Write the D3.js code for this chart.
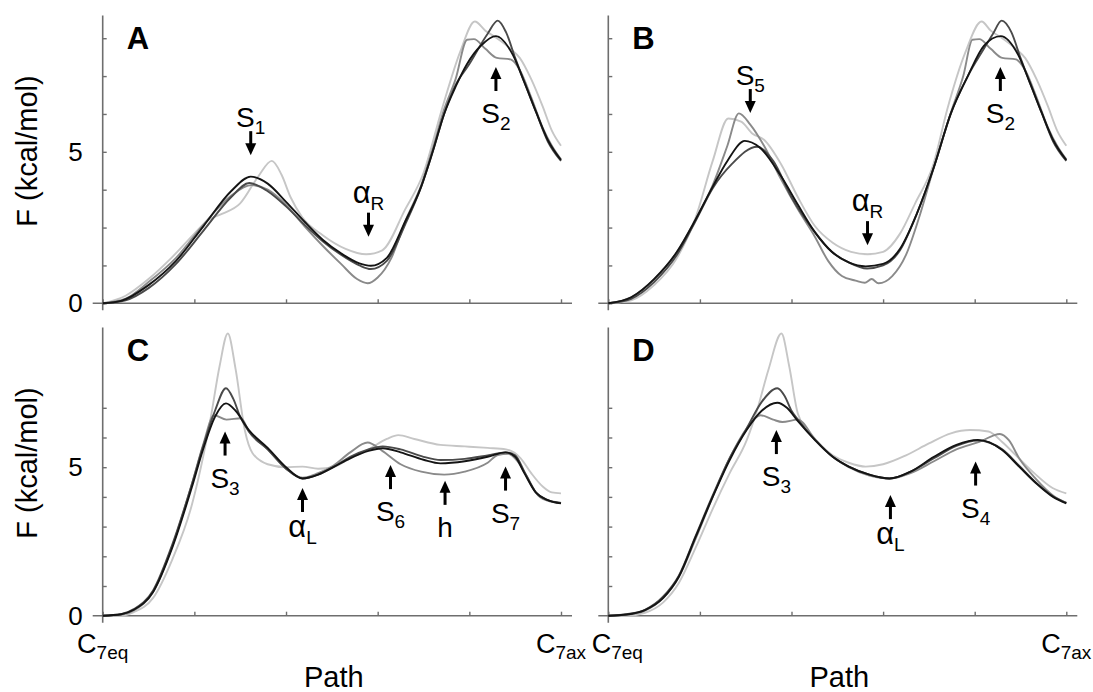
<!DOCTYPE html>
<html>
<head>
<meta charset="utf-8">
<script src="https://cdn.jsdelivr.net/npm/d3@7"></script>
<style>
  body { margin: 0; background: #fff; }
  svg { display: block; }
  text { font-family: "Liberation Sans", Arial, Helvetica, sans-serif; fill: #000; }
</style>
</head>
<body>
<div id="chart"></div>
<script>
// free energy profiles along the C7eq -> C7ax path, four runs per panel

// x ticks (fraction of the path) and y ticks (kcal/mol)
const xTicks = [0, 0.2, 0.4, 0.6, 0.8, 1];
const yTicksTop = [0, 1.25, 2.5, 3.75, 5, 6.25, 7.5, 8.75];
const yTicksBottom = [0, 1, 2, 3, 4, 5, 6, 7];
const yTickLabels = [0, 5];
const panelLetters = ["A", "B", "C", "D"];

// panel A curves [path, F]
const aBlack = [[0,0],[0.04,0.08],[0.1,0.6],[0.16,1.4],[0.22,2.55],[0.28,3.7],[0.323,4.18],[0.36,3.95],[0.40,3.35],[0.44,2.7],[0.48,2.1],[0.52,1.65],[0.56,1.32],[0.585,1.24],[0.62,1.5],[0.66,2.7],[0.695,3.85],[0.72,5.0],[0.745,6.25],[0.77,7.15],[0.795,7.9],[0.825,8.5],[0.858,8.82],[0.895,8.2],[0.92,7.3],[0.946,6.3],[0.971,5.4],[1,4.73]];
const aDark = [[0,0],[0.05,0.1],[0.1,0.5],[0.16,1.3],[0.22,2.4],[0.28,3.5],[0.32,3.97],[0.36,3.7],[0.40,3.2],[0.44,2.6],[0.48,2.05],[0.52,1.6],[0.56,1.25],[0.585,1.13],[0.62,1.4],[0.66,2.6],[0.695,3.85],[0.72,5.0],[0.745,6.25],[0.77,7.2],[0.80,7.9],[0.84,8.9],[0.862,9.33],[0.88,8.95],[0.90,8.1],[0.92,7.3],[0.946,6.3],[0.971,5.35],[1,4.7]];
const aMid = [[0,0],[0.05,0.15],[0.1,0.7],[0.16,1.5],[0.22,2.6],[0.28,3.55],[0.325,3.9],[0.36,3.75],[0.40,3.25],[0.44,2.55],[0.48,1.9],[0.52,1.3],[0.555,0.8],[0.578,0.66],[0.60,0.85],[0.63,1.5],[0.66,2.7],[0.695,3.9],[0.72,5.1],[0.745,6.4],[0.77,7.4],[0.795,8.7],[0.81,8.72],[0.835,8.4],[0.86,8.1],[0.89,8.05],[0.91,7.7],[0.935,6.8],[0.96,5.8],[0.98,5.2],[1,4.75]];
const aLight = [[0,0],[0.05,0.25],[0.1,0.8],[0.15,1.5],[0.2,2.3],[0.23,2.75],[0.26,2.95],[0.3,3.3],[0.34,4.2],[0.369,4.7],[0.39,4.25],[0.41,3.5],[0.435,2.85],[0.48,2.25],[0.53,1.8],[0.575,1.62],[0.61,1.75],[0.66,3.1],[0.70,4.3],[0.74,6.4],[0.78,8.3],[0.812,9.3],[0.835,9.0],[0.86,8.75],[0.89,8.4],[0.91,8.1],[0.935,7.4],[0.96,6.5],[0.98,5.7],[1,5.2]];

// panel B curves
const bBlack = [[0,0],[0.05,0.2],[0.1,0.8],[0.15,1.7],[0.19,2.75],[0.228,3.85],[0.26,4.7],[0.298,5.36],[0.33,5.15],[0.377,4.2],[0.414,3.25],[0.451,2.35],[0.488,1.7],[0.525,1.35],[0.562,1.22],[0.60,1.3],[0.637,1.8],[0.674,2.97],[0.711,4.5],[0.748,6.27],[0.785,7.5],[0.82,8.5],[0.857,8.82],[0.895,8.2],[0.92,7.3],[0.946,6.3],[0.971,5.4],[1,4.73]];
const bDark = [[0,0],[0.05,0.15],[0.1,0.7],[0.15,1.6],[0.19,2.7],[0.228,3.8],[0.27,4.6],[0.325,5.17],[0.36,4.7],[0.40,3.5],[0.451,2.35],[0.488,1.7],[0.525,1.35],[0.565,1.15],[0.60,1.25],[0.637,1.75],[0.674,2.97],[0.711,4.5],[0.748,6.27],[0.785,7.5],[0.82,8.4],[0.84,8.9],[0.859,9.33],[0.88,8.95],[0.90,8.1],[0.92,7.3],[0.946,6.3],[0.971,5.35],[1,4.7]];
const bMid = [[0,0],[0.05,0.2],[0.1,0.8],[0.15,1.7],[0.19,2.75],[0.228,3.9],[0.26,5.2],[0.285,6.27],[0.31,5.9],[0.34,5.2],[0.377,4.1],[0.414,3.1],[0.451,2.2],[0.48,1.4],[0.51,0.9],[0.54,0.75],[0.56,0.68],[0.575,0.8],[0.59,0.66],[0.62,0.9],[0.65,1.6],[0.68,2.9],[0.711,4.5],[0.748,6.3],[0.775,7.5],[0.795,8.7],[0.81,8.72],[0.835,8.4],[0.86,8.1],[0.89,8.05],[0.91,7.7],[0.935,6.8],[0.96,5.8],[0.98,5.2],[1,4.75]];
const bLight = [[0,0],[0.05,0.1],[0.1,0.6],[0.15,1.5],[0.19,2.8],[0.228,4.7],[0.262,6.1],[0.29,6.0],[0.315,5.6],[0.34,5.4],[0.377,4.6],[0.414,3.5],[0.451,2.55],[0.49,2.0],[0.53,1.7],[0.566,1.62],[0.60,1.7],[0.637,2.3],[0.67,3.3],[0.71,4.6],[0.74,6.4],[0.78,8.3],[0.815,9.3],[0.835,9.0],[0.86,8.75],[0.89,8.4],[0.91,8.1],[0.935,7.4],[0.96,6.5],[0.98,5.7],[1,5.2]];

// panel C curves
const cBlack = [[0,0],[0.04,0.05],[0.068,0.2],[0.11,0.8],[0.152,2.3],[0.194,4.3],[0.219,5.6],[0.245,6.7],[0.269,7.15],[0.29,6.9],[0.319,6.25],[0.36,5.65],[0.40,5.0],[0.436,4.62],[0.47,4.75],[0.503,5.0],[0.54,5.3],[0.58,5.55],[0.611,5.64],[0.65,5.5],[0.70,5.25],[0.737,5.13],[0.79,5.2],[0.84,5.35],[0.879,5.5],[0.90,5.35],[0.92,4.8],[0.945,4.15],[0.97,3.9],[1,3.78]];
const cDark = [[0,0],[0.04,0.05],[0.068,0.22],[0.11,0.85],[0.152,2.4],[0.194,4.4],[0.219,5.7],[0.245,6.9],[0.269,7.66],[0.285,7.3],[0.30,6.7],[0.319,6.2],[0.36,5.6],[0.40,4.95],[0.436,4.62],[0.47,4.75],[0.503,5.0],[0.54,5.35],[0.58,5.6],[0.611,5.7],[0.65,5.6],[0.70,5.35],[0.737,5.24],[0.79,5.28],[0.84,5.4],[0.879,5.5],[0.90,5.4],[0.92,4.85],[0.945,4.15],[0.97,3.9],[1,3.8]];
const cMid = [[0,0],[0.04,0.03],[0.068,0.18],[0.11,0.8],[0.152,2.35],[0.194,4.4],[0.219,5.75],[0.243,6.75],[0.27,6.6],[0.302,6.65],[0.319,6.2],[0.36,5.6],[0.40,4.95],[0.436,4.65],[0.47,4.8],[0.503,5.05],[0.54,5.5],[0.578,5.83],[0.61,5.55],[0.65,5.1],[0.695,4.85],[0.745,4.75],[0.79,4.85],[0.84,5.15],[0.862,5.41],[0.885,5.45],[0.905,5.2],[0.925,4.7],[0.95,4.05],[0.975,3.85],[1,3.8]];
const cLight = [[0,0],[0.04,0.0],[0.068,0.12],[0.11,0.6],[0.152,1.9],[0.194,3.7],[0.235,6.6],[0.255,8.4],[0.273,9.5],[0.29,8.3],[0.31,6.25],[0.327,5.47],[0.36,5.1],[0.40,5.0],[0.436,5.02],[0.47,4.95],[0.503,5.0],[0.54,5.3],[0.58,5.6],[0.62,5.95],[0.645,6.08],[0.68,5.95],[0.737,5.75],[0.79,5.7],[0.84,5.65],[0.88,5.6],[0.912,5.3],[0.935,4.8],[0.96,4.35],[0.98,4.15],[1,4.12]];

// panel D curves
const dBlack = [[0,0],[0.04,0.04],[0.08,0.19],[0.12,0.6],[0.154,1.31],[0.191,2.66],[0.228,4.0],[0.265,5.24],[0.302,6.25],[0.335,6.9],[0.369,7.17],[0.39,7.0],[0.414,6.55],[0.451,5.92],[0.49,5.35],[0.525,5.02],[0.57,4.75],[0.614,4.62],[0.66,4.85],[0.711,5.35],[0.76,5.75],[0.807,5.92],[0.86,5.58],[0.897,5.02],[0.934,4.46],[0.971,4.0],[1,3.78]];
const dDark = [[0,0],[0.04,0.05],[0.08,0.2],[0.12,0.65],[0.154,1.35],[0.191,2.7],[0.228,4.05],[0.265,5.3],[0.302,6.3],[0.335,7.2],[0.369,7.66],[0.385,7.4],[0.40,6.9],[0.414,6.6],[0.451,5.92],[0.49,5.35],[0.525,5.02],[0.57,4.75],[0.614,4.62],[0.66,4.85],[0.711,5.3],[0.76,5.72],[0.807,5.9],[0.86,5.6],[0.897,5.05],[0.934,4.48],[0.971,4.02],[1,3.8]];
const dMid = [[0,0],[0.04,0.03],[0.08,0.17],[0.12,0.6],[0.154,1.3],[0.191,2.6],[0.228,4.0],[0.265,5.3],[0.302,6.3],[0.332,6.75],[0.36,6.6],[0.38,6.52],[0.414,6.6],[0.451,5.95],[0.49,5.35],[0.525,5.0],[0.57,4.72],[0.614,4.62],[0.66,4.8],[0.711,5.2],[0.76,5.6],[0.81,5.85],[0.855,6.12],[0.875,5.9],[0.897,5.3],[0.934,4.6],[0.971,4.05],[1,3.8]];
const dLight = [[0,0],[0.04,0.0],[0.08,0.1],[0.12,0.45],[0.154,1.1],[0.191,2.3],[0.228,3.6],[0.265,4.8],[0.302,5.9],[0.325,6.93],[0.35,8.3],[0.378,9.5],[0.395,8.4],[0.414,6.8],[0.451,5.95],[0.49,5.4],[0.525,5.15],[0.562,5.02],[0.6,5.1],[0.65,5.4],[0.70,5.8],[0.748,6.14],[0.79,6.25],[0.83,6.2],[0.86,5.85],[0.89,5.4],[0.93,4.8],[0.97,4.3],[1,4.12]];

// state labels: [symbol, subscript, path, F at arrow tip, direction]
const notesA = [["S","1",0.323,4.89,"down"],["\u03b1","R",0.580,2.2,"down"],["S","2",0.858,7.8,"up"]];
const notesB = [["S","5",0.31,6.28,"down"],["\u03b1","R",0.566,1.92,"down"],["S","2",0.856,7.8,"up"]];
const notesC = [["S","3",0.267,6.2,"up"],["\u03b1","L",0.436,4.3,"up"],["S","6",0.628,5.07,"up"],["h","",0.747,4.54,"up"],["S","7",0.879,5.02,"up"]];
const notesD = [["S","3",0.367,6.25,"up"],["\u03b1","L",0.616,4.06,"up"],["S","4",0.802,5.19,"up"]];

const width = 1093, height = 692;
const axisColor = "#6e6e6e";
// drawn light first so the black run stays on top
const runColors = ["#c6c6c6", "#8a8a8a", "#4a4a4a", "#141414"];

const svg = d3.select("#chart")
    .append("svg")
    .attr("width", width)
    .attr("height", height);

const panels = [
    {left: 102.7, right: 561, top: 15.5, zero: 303.3, ymax: 9.5, ticks: yTicksTop, runs: [aLight, aMid, aDark, aBlack], notes: notesA, isLeft: true, isBottom: false},
    {left: 608.3, right: 1066.3, top: 15.5, zero: 303.3, ymax: 9.5, ticks: yTicksTop, runs: [bLight, bMid, bDark, bBlack], notes: notesB, isLeft: false, isBottom: false},
    {left: 102.7, right: 561, top: 327.6, zero: 615.7, ymax: 9.7, ticks: yTicksBottom, runs: [cLight, cMid, cDark, cBlack], notes: notesC, isLeft: true, isBottom: true},
    {left: 608.3, right: 1066.3, top: 327.6, zero: 615.7, ymax: 9.7, ticks: yTicksBottom, runs: [dLight, dMid, dDark, dBlack], notes: notesD, isLeft: false, isBottom: true}
];

panels.forEach(function (p, i) {
    const x = d3.scaleLinear().domain([0, 1]).range([p.left, p.right]);
    const y = d3.scaleLinear().domain([0, p.ymax]).range([p.zero, p.top]);
    const g = svg.append("g");

    // axis lines, a bit longer than the data range
    g.append("line")
        .attr("x1", p.left - 10).attr("x2", p.right + 11)
        .attr("y1", p.zero).attr("y2", p.zero)
        .attr("stroke", axisColor).attr("stroke-width", 1.6);
    g.append("line")
        .attr("x1", p.left).attr("x2", p.left)
        .attr("y1", p.top).attr("y2", p.zero + 7)
        .attr("stroke", axisColor).attr("stroke-width", 1.6);

    // y ticks point inward, only 0 and 5 get a number
    const yAxis = g.append("g")
        .attr("transform", `translate(${p.left},0)`)
        .call(d3.axisLeft(y)
            .tickValues(p.ticks)
            .tickSize(-4)
            .tickPadding(20)
            .tickFormat(d => (p.isLeft && yTickLabels.includes(d)) ? d : ""));
    yAxis.select(".domain").remove();
    yAxis.selectAll(".tick line").attr("stroke", axisColor).attr("stroke-width", 1.4);
    yAxis.selectAll(".tick text")
        .attr("font-size", 26)
        .attr("font-family", "Liberation Sans, Arial, sans-serif")
        .attr("fill", "#000");

    const xAxis = g.append("g")
        .attr("transform", `translate(0,${p.zero})`)
        .call(d3.axisBottom(x).tickValues(xTicks).tickSize(-4).tickFormat(""));
    xAxis.select(".domain").remove();
    xAxis.selectAll(".tick line").attr("stroke", axisColor).attr("stroke-width", 1.4);

    // the four runs
    const line = d3.line()
        .x(d => x(d[0]))
        .y(d => y(d[1]))
        .curve(d3.curveMonotoneX);

    g.selectAll("path.run")
        .data(p.runs)
        .enter()
        .append("path")
        .attr("class", "run")
        .attr("d", line)
        .attr("fill", "none")
        .attr("stroke", (d, k) => runColors[k])
        .attr("stroke-width", 1.9)
        .attr("stroke-linejoin", "round");

    // panel letter
    g.append("text")
        .attr("x", p.left + 24)
        .attr("y", p.top + 33)
        .attr("font-size", 31)
        .attr("font-weight", "bold")
        .text(panelLetters[i]);

    // state labels with arrows
    p.notes.forEach(function (n) {
        const ng = g.append("g")
            .attr("transform", `translate(${x(n[2])},${y(n[3])})`);
        const s = n[4] === "up" ? 1 : -1;
        ng.append("line")
            .attr("x1", 0).attr("x2", 0)
            .attr("y1", s * 8).attr("y2", s * 24)
            .attr("stroke", "#000").attr("stroke-width", 3);
        ng.append("path")
            .attr("d", `M0,0 L-5.5,${s * 12} L5.5,${s * 12} Z`)
            .attr("fill", "#000");

        const isAlpha = n[0] === "\u03b1";
        let base;
        if (s > 0) base = 24 + (isAlpha ? 25 : 32);
        else base = -24 - (isAlpha ? 10 : 4);

        const t = ng.append("text")
            .attr("x", 0).attr("y", base)
            .attr("text-anchor", "middle")
            .attr("font-size", 28);
        t.append("tspan").attr("font-size", isAlpha ? 31 : 28).text(n[0]);
        if (n[1] !== "") {
            t.append("tspan")
                .attr("font-size", 19)
                .attr("dy", 7)
                .text(n[1]);
        }
    });

    // end labels and axis title under the bottom row
    if (p.isBottom) {
        [[0, "7eq"], [1, "7ax"]].forEach(function (e) {
            // the right panel's start label sits a little clear of the neighbour's end label
            const shift = (e[0] === 0 && !p.isLeft) ? 9 : 0;
            const lt = g.append("text")
                .attr("x", x(e[0]) + shift)
                .attr("y", 653)
                .attr("text-anchor", "middle");
            lt.append("tspan").attr("font-size", 27).text("C");
            lt.append("tspan").attr("font-size", 19).attr("dy", 6).text(e[1]);
        });
        g.append("text")
            .attr("x", (p.left + p.right) / 2 + 2)
            .attr("y", 687)
            .attr("text-anchor", "middle")
            .attr("font-size", 29)
            .text("Path");
    }

    if (p.isLeft) {
        g.append("text")
            .attr("transform", `translate(37,${p.isBottom ? 463 : 151}) rotate(-90)`)
            .attr("text-anchor", "middle")
            .attr("font-size", 29)
            .text("F (kcal/mol)");
    }
});
</script>
</body>
</html>
